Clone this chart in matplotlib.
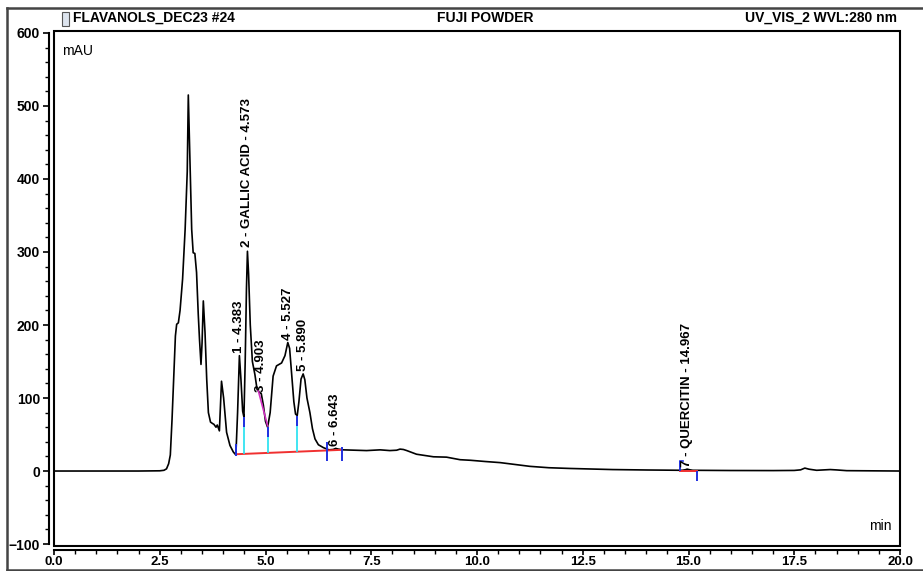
import numpy as np
import matplotlib.pyplot as plt
from matplotlib.patches import Rectangle
from matplotlib.lines import Line2D
from matplotlib.ticker import MultipleLocator, FormatStrFormatter

plt.rcParams['font.family'] = ['Liberation Sans', 'DejaVu Sans']

# chromatogram trace (min, mAU)
time = [0.0, 1.0, 2.0, 2.5, 2.6, 2.66, 2.71, 2.75, 2.79, 2.83, 2.87, 2.90, 2.94, 2.98,
        3.04, 3.10, 3.15, 3.175, 3.215, 3.255, 3.29, 3.33, 3.37, 3.41, 3.44, 3.475,
        3.50, 3.53, 3.57, 3.61, 3.65, 3.70, 3.75, 3.78, 3.83, 3.86, 3.91, 3.96, 4.01,
        4.08, 4.16, 4.24, 4.30, 4.34, 4.383, 4.42, 4.46, 4.49, 4.52, 4.55, 4.573,
        4.60, 4.64, 4.69, 4.75, 4.80, 4.85, 4.90, 4.95, 5.00, 5.05, 5.11, 5.18, 5.26,
        5.32, 5.38, 5.46, 5.527, 5.57, 5.62, 5.67, 5.71, 5.75, 5.79, 5.84, 5.89,
        5.93, 5.98, 6.05, 6.11, 6.17, 6.25, 6.37, 6.50, 6.60, 6.66, 6.72, 6.84, 7.1,
        7.39, 7.71, 7.94, 8.10, 8.18, 8.26, 8.34, 8.57, 8.97, 9.28, 9.6, 9.85, 10.2,
        10.55, 10.9, 11.25, 11.7, 12.2, 12.64, 13.2, 13.6, 14.03, 14.5, 14.85, 14.93,
        14.967, 15.02, 15.1, 15.5, 16.0, 16.5, 17.0, 17.5, 17.65, 17.75, 17.85, 18.03,
        18.2, 18.35, 18.5, 18.74, 19.2, 19.6, 20.0]
signal = [0.0, 0.0, 0.0, 0.3, 1.0, 3.0, 10.0, 22.0, 70.0, 126.0, 185.0, 201.0, 203.0,
          220.0, 263.0, 331.0, 410.0, 515.0, 423.0, 331.0, 299.0, 298.0, 272.0, 215.0,
          180.0, 146.0, 175.0, 233.0, 190.0, 126.0, 80.0, 67.0, 65.0, 64.0, 60.0, 63.0,
          55.0, 123.0, 100.0, 53.0, 35.0, 26.0, 22.0, 80.0, 158.0, 125.0, 82.0, 74.0,
          150.0, 250.0, 301.0, 270.0, 200.0, 150.0, 132.0, 112.0, 108.0, 106.0, 90.0,
          68.0, 60.0, 80.0, 130.0, 144.0, 146.0, 148.0, 158.0, 176.0, 168.0, 132.0,
          95.0, 78.0, 76.0, 95.0, 126.0, 133.0, 125.0, 100.0, 80.0, 58.0, 44.0, 36.0,
          32.0, 29.0, 29.5, 31.0, 30.0, 29.0, 28.5, 28.0, 29.0, 28.0, 28.5, 30.0, 29.5,
          28.0, 23.0, 19.5, 19.0, 15.5, 14.7, 13.0, 11.5, 9.0, 6.4, 4.5, 3.5, 2.8, 2.0,
          1.7, 1.4, 1.2, 1.0, 1.8, 2.6, 1.8, 1.0, 0.8, 0.7, 0.6, 0.6, 0.8, 1.6, 4.0, 2.5,
          1.0, 1.6, 2.0, 1.5, 0.5, 0.3, 0.2, 0.0]

# peak labels
peak_rt = [4.383, 4.573, 4.903, 5.527, 5.890, 6.643, 14.967]
peak_label_y = [162, 307, 108, 180, 137, 34, 6]
peak_names = ['1 - 4.383', '2 - GALLIC ACID - 4.573', '3 - 4.903', '4 - 5.527',
              '5 - 5.890', '6 - 6.643', '7 - QUERCITIN - 14.967']

# integration marks
base_t = [4.30, 6.80]
base_v = [23.0, 29.0]
drop_t = [4.49, 5.05, 5.75]
drop_top = [74.0, 60.0, 76.0]
drop_bot = [23.5, 24.8, 26.5]
delim_t = [4.30, 6.45, 6.80, 14.80, 15.21]
delim_lo = [21.0, 14.0, 14.0, 0.4, -13.0]
delim_hi = [37.0, 40.0, 33.0, 14.0, 0.4]
skim_t = [4.83, 5.05]
skim_v = [110.0, 62.0]
q_base_t = [14.80, 15.19]
q_base_v = [0.4, 0.4]

W, H = 923, 571
fig = plt.figure(figsize=(W / 100, H / 100), dpi=100)
ax = fig.add_axes([54 / W, (H - 546) / H, 846 / W, 515 / H])

ax.plot(time, signal, color='black', lw=1.2, zorder=3)

ax.plot(base_t, base_v, color='#f03030', lw=1.4, zorder=4)
ax.plot(q_base_t, q_base_v, color='#f03030', lw=1.4, zorder=4)
ax.vlines(drop_t, drop_bot, drop_top, color='#20e0f0', lw=1.2, zorder=4)
ax.vlines(drop_t, [v - 14 for v in drop_top], drop_top, color='#2030e0', lw=1.4, zorder=5)
ax.vlines(delim_t, delim_lo, delim_hi, color='#2030e0', lw=1.4, zorder=5)
ax.plot([14.80, 14.88], [14.0, 14.0], color='#2030e0', lw=1.2, zorder=5)
ax.plot(skim_t, skim_v, color='#d030c0', lw=1.2, zorder=4)

for rt, y, name in zip(peak_rt, peak_label_y, peak_names):
    ax.text(rt, y, name, rotation=90, ha='center', va='bottom',
            fontsize=9.5, fontweight='bold', zorder=6)

ax.set_xlim(0, 20)
ax.set_ylim(-102.7, 602.7)

for s in ['top', 'right']:
    ax.spines[s].set_visible(False)
ax.spines['left'].set_position(('outward', 3.6))
ax.spines['bottom'].set_position(('outward', 2.9))
ax.spines['left'].set_bounds(-100, 600)
ax.spines['bottom'].set_bounds(0, 20)
ax.spines['left'].set_linewidth(1.5)
ax.spines['bottom'].set_linewidth(1.5)
ax.add_patch(Rectangle((0, 0), 1, 1, transform=ax.transAxes, fill=False,
                       lw=1.5, ec='black', clip_on=False, zorder=7))

ax.yaxis.set_major_locator(MultipleLocator(100))
ax.yaxis.set_minor_locator(MultipleLocator(20))
ax.xaxis.set_major_locator(MultipleLocator(2.5))
ax.xaxis.set_minor_locator(MultipleLocator(0.5))
ax.xaxis.set_major_formatter(FormatStrFormatter('%.1f'))
ax.tick_params(axis='y', which='major', length=4.5, width=1.2, labelsize=10, pad=2)
ax.tick_params(axis='x', which='major', length=3.5, width=1.2, labelsize=9.5, pad=0.5)
ax.tick_params(which='minor', length=3.0, width=1.0)
for lab in ax.get_xticklabels() + ax.get_yticklabels():
    lab.set_fontweight('bold')

ax.text(0.01, 0.975, 'mAU', transform=ax.transAxes, ha='left', va='top', fontsize=10)
ax.text(0.99, 0.025, 'min', transform=ax.transAxes, ha='right', va='bottom', fontsize=10)

# header
fig.text(73 / W, 1 - 18 / H, 'FLAVANOLS_DEC23 #24', ha='left', va='center',
         fontsize=10, fontweight='bold')
fig.text(485 / W, 1 - 18 / H, 'FUJI POWDER', ha='center', va='center',
         fontsize=10, fontweight='bold')
fig.text(897 / W, 1 - 18 / H, 'UV_VIS_2 WVL:280 nm', ha='right', va='center',
         fontsize=10, fontweight='bold')
fig.add_artist(Rectangle((62 / W, 1 - 26 / H), 7 / W, 14 / H, transform=fig.transFigure,
                         fc='#dde4ee', ec='#555555', lw=0.8))

# outer frame
fig.add_artist(Line2D([7 / W, 1], [1 - 8 / H, 1 - 8 / H], transform=fig.transFigure,
                      color='#444444', lw=1.8))
fig.add_artist(Line2D([7 / W, 7 / W], [1 - 8 / H, 0], transform=fig.transFigure,
                      color='#444444', lw=1.8))
fig.add_artist(Line2D([7 / W, 1], [1 / H, 1 / H], transform=fig.transFigure,
                      color='#444444', lw=1.8))

fig.savefig('out.png', dpi=100)
